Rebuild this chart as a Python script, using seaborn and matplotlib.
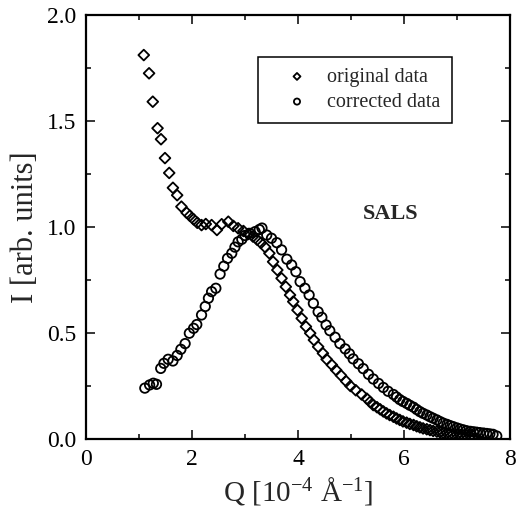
import numpy as np
import pandas as pd
import matplotlib
matplotlib.use("Agg")
import matplotlib.pyplot as plt
from matplotlib.ticker import MultipleLocator
import seaborn as sns

# ---- data ----
q_original = [1.09, 1.19, 1.26, 1.35, 1.415, 1.49, 1.57, 1.64, 1.72, 1.80, 1.90, 1.96,
              2.03, 2.10, 2.18, 2.26, 2.37, 2.47, 2.56, 2.685, 2.78, 2.87, 2.97, 3.06,
              3.15, 3.23, 3.30, 3.38, 3.46, 3.53, 3.61, 3.69, 3.77, 3.85, 3.91, 3.99,
              4.07, 4.15, 4.23, 4.30, 4.38, 4.47, 4.54, 4.64, 4.72, 4.81, 4.91, 4.99,
              5.09, 5.20, 5.30, 5.36, 5.42, 5.49, 5.55, 5.61, 5.67, 5.73, 5.80, 5.86,
              5.92, 5.98, 6.05, 6.11, 6.18, 6.24, 6.30, 6.36, 6.43, 6.49, 6.55, 6.62,
              6.68, 6.74, 6.81, 6.87, 6.93, 7.00, 7.06, 7.12, 7.18, 7.25, 7.31]
i_original = [1.811, 1.725, 1.591, 1.466, 1.414, 1.325, 1.255, 1.185, 1.150, 1.096, 1.067, 1.053,
              1.036, 1.020, 1.009, 1.014, 1.009, 0.986, 1.013, 1.025, 1.005, 0.994, 0.981, 0.967,
              0.955, 0.940, 0.925, 0.905, 0.876, 0.836, 0.797, 0.758, 0.718, 0.679, 0.648, 0.608,
              0.569, 0.530, 0.499, 0.467, 0.435, 0.404, 0.376, 0.349, 0.325, 0.300, 0.272, 0.250,
              0.230, 0.210, 0.190, 0.175, 0.160, 0.150, 0.140, 0.130, 0.121, 0.113, 0.105, 0.097,
              0.090, 0.083, 0.077, 0.071, 0.066, 0.060, 0.055, 0.050, 0.046, 0.042, 0.038, 0.035,
              0.032, 0.029, 0.027, 0.024, 0.022, 0.020, 0.019, 0.017, 0.016, 0.015, 0.014]

q_corrected = [1.11, 1.20, 1.27, 1.33, 1.41, 1.47, 1.55, 1.64, 1.72, 1.79, 1.87, 1.95,
               2.03, 2.09, 2.18, 2.25, 2.31, 2.37, 2.45, 2.53, 2.60, 2.67, 2.75, 2.81,
               2.87, 2.94, 3.00, 3.09, 3.19, 3.27, 3.32, 3.41, 3.50, 3.60, 3.69, 3.79,
               3.88, 3.96, 4.04, 4.13, 4.21, 4.29, 4.38, 4.45, 4.53, 4.60, 4.70, 4.79,
               4.89, 4.97, 5.04, 5.14, 5.23, 5.33, 5.42, 5.52, 5.61, 5.70, 5.80, 5.86,
               5.92, 5.98, 6.05, 6.11, 6.18, 6.24, 6.30, 6.36, 6.43, 6.49, 6.55, 6.62,
               6.68, 6.74, 6.81, 6.87, 6.93, 7.00, 7.06, 7.12, 7.18, 7.25, 7.31, 7.37,
               7.43, 7.50, 7.56, 7.62, 7.68, 7.75]
i_corrected = [0.240, 0.255, 0.263, 0.258, 0.333, 0.357, 0.376, 0.368, 0.394, 0.423, 0.450, 0.499,
               0.522, 0.540, 0.585, 0.625, 0.664, 0.695, 0.711, 0.778, 0.815, 0.852, 0.876, 0.905,
               0.930, 0.942, 0.960, 0.970, 0.978, 0.988, 0.995, 0.962, 0.947, 0.926, 0.892, 0.848,
               0.821, 0.789, 0.742, 0.711, 0.679, 0.640, 0.600, 0.574, 0.538, 0.511, 0.480, 0.450,
               0.425, 0.402, 0.378, 0.355, 0.332, 0.305, 0.283, 0.262, 0.243, 0.225, 0.210, 0.198,
               0.186, 0.177, 0.168, 0.159, 0.150, 0.139, 0.129, 0.121, 0.113, 0.105, 0.098, 0.090,
               0.082, 0.075, 0.069, 0.063, 0.058, 0.052, 0.047, 0.043, 0.039, 0.036, 0.034, 0.032,
               0.030, 0.028, 0.026, 0.024, 0.022, 0.014]

series_labels = ["original data", "corrected data"]
x_ticks = [0, 2, 4, 6, 8]
y_ticks = [0.0, 0.5, 1.0, 1.5, 2.0]

df_o = pd.DataFrame({"Q": q_original, "I": i_original})
df_c = pd.DataFrame({"Q": q_corrected, "I": i_corrected})

sns.set_style("ticks")
plt.rcParams["font.family"] = ["Liberation Serif", "DejaVu Serif"]
plt.rcParams["mathtext.fontset"] = "custom"
plt.rcParams["mathtext.rm"] = "Liberation Serif"
plt.rcParams["mathtext.it"] = "Liberation Serif:italic"
plt.rcParams["mathtext.bf"] = "Liberation Serif:bold"

fig = plt.figure(figsize=(5.16, 5.19), dpi=100)
ax = fig.add_axes([86 / 516, 1 - 439 / 519, 424 / 516, 424 / 519])

sns.scatterplot(data=df_o, x="Q", y="I", marker="D", s=30, facecolor="none",
                edgecolor="black", linewidth=1.3, label=series_labels[0], ax=ax, zorder=3)
sns.scatterplot(data=df_c, x="Q", y="I", marker="o", s=46, facecolor="none",
                edgecolor="black", linewidth=1.3, label=series_labels[1], ax=ax, zorder=3)

ax.set_xlim(0, 8)
ax.set_ylim(0, 2.0)
ax.set_xticks(x_ticks)
ax.set_yticks(y_ticks)
ax.set_xticklabels([str(t) for t in x_ticks])
ax.set_yticklabels([f"{t:.1f}" for t in y_ticks])
ax.xaxis.set_minor_locator(MultipleLocator(1))
ax.yaxis.set_minor_locator(MultipleLocator(0.25))
ax.tick_params(which="both", direction="in", top=True, right=True, colors="black")
ax.tick_params(which="major", length=6.5, width=1.1, labelsize=17)
ax.tick_params(which="minor", length=3.3, width=1.1)
ax.tick_params(axis="y", which="major", pad=7)
ax.tick_params(axis="x", which="major", pad=7)
for sp in ax.spines.values():
    sp.set_visible(True)
    sp.set_linewidth(1.6)
    sp.set_color("black")

ax.set_xlabel(r"Q [10$^{\mathregular{-4}}$ Å$^{\mathregular{-1}}$]", fontsize=21, labelpad=4)
ax.set_ylabel("I [arb. units]", fontsize=22, labelpad=5)

ax.text(5.74, 1.06, "SALS", fontsize=16, fontweight="bold", ha="center", va="center")

leg = ax.legend(loc="upper left", bbox_to_anchor=(0.405, 0.902), borderaxespad=0,
                fontsize=14.5, frameon=True, fancybox=False, edgecolor="black",
                framealpha=1, markerscale=0.65, handlelength=2.8, handletextpad=0.1,
                borderpad=0.55, labelspacing=0.3)
leg.get_frame().set_linewidth(1.1)

fig.savefig("out.png", dpi=100)
